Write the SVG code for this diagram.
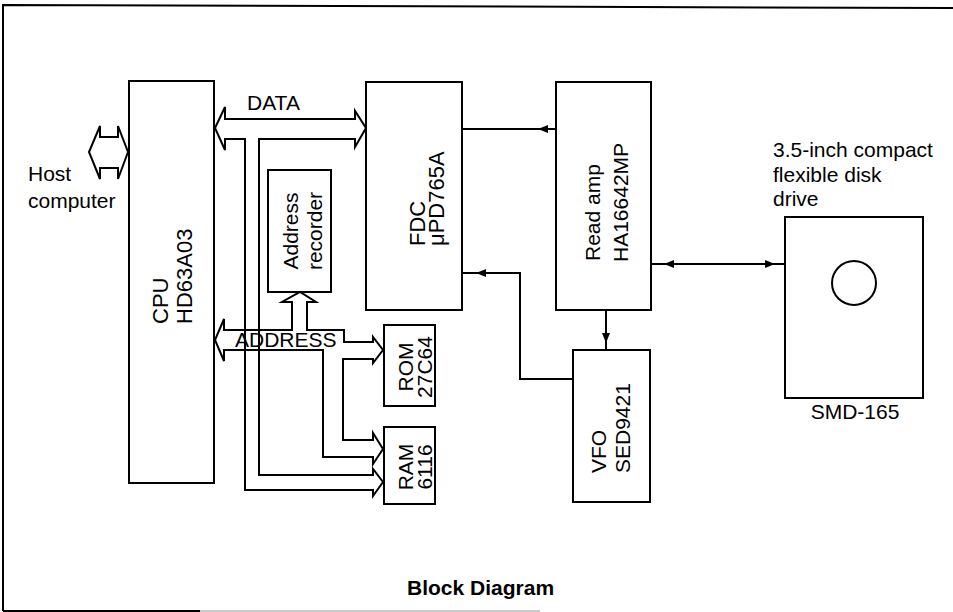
<svg xmlns="http://www.w3.org/2000/svg" width="953" height="612" viewBox="0 0 953 612">
<style>
.box{fill:none;stroke:#000;stroke-width:2}
.bus{fill:none;stroke:#000;stroke-width:2;stroke-linejoin:miter}
.ln{fill:none;stroke:#000;stroke-width:2}
text{font-family:"Liberation Sans",Arial,Helvetica,sans-serif;font-size:21px;fill:#000}
.lbl{font-size:22px}
.b{font-weight:bold}
</style>
<defs>
<marker id="ah" viewBox="0 0 10 8" refX="10" refY="4" markerWidth="10" markerHeight="8" markerUnits="userSpaceOnUse" orient="auto">
<path d="M0,0 L10,4 L0,8 Z" fill="#000"/>
</marker>
</defs>
<g id="frame">
<path d="M3,611 L3,5 L953,8" class="ln"/>
<line x1="3" y1="611" x2="200" y2="611" stroke="#000" stroke-width="2"/>
<line x1="200" y1="611" x2="540" y2="611" stroke="#bbb" stroke-width="1.5"/>
</g>
<g id="host">
<path class="bus" d="M89,152 L100,126 L100,137 L118,137 L118,126 L128,152 L118,179 L118,168 L100,168 L100,179 Z"/>
<text x="28" y="181" font-size="22">Host</text>
<text x="28" y="208" font-size="22">computer</text>
</g>
<g id="cpu">
<rect class="box" x="129" y="81" width="85" height="402"/>
<text class="lbl" transform="translate(168,324) rotate(-90)">CPU</text>
<text class="lbl" transform="translate(192,324) rotate(-90)">HD63A03</text>
</g>
<g id="addr-rec">
<rect class="box" x="268" y="170" width="63" height="122"/>
<text transform="translate(298,231) rotate(-90)" text-anchor="middle">Address</text>
<text transform="translate(322,231) rotate(-90)" text-anchor="middle">recorder</text>
</g>
<g id="fdc">
<rect class="box" x="366" y="82" width="96" height="228"/>
<text class="lbl" transform="translate(425,246) rotate(-90)">FDC</text>
<text class="lbl" transform="translate(444,246) rotate(-90)">μPD765A</text>
</g>
<g id="readamp">
<rect class="box" x="556" y="82" width="95" height="228"/>
<text transform="translate(600,261) rotate(-90)">Read amp</text>
<text transform="translate(628,262) rotate(-90)">HA16642MP</text>
</g>
<g id="rom">
<rect class="box" x="384" y="325" width="51" height="81"/>
<text transform="translate(413,367) rotate(-90)" text-anchor="middle">ROM</text>
<text transform="translate(432,367) rotate(-90)" text-anchor="middle">27C64</text>
</g>
<g id="ram">
<rect class="box" x="384" y="427" width="51" height="77"/>
<text transform="translate(413,467) rotate(-90)" text-anchor="middle">RAM</text>
<text transform="translate(432,467) rotate(-90)" text-anchor="middle">6116</text>
</g>
<g id="vfo">
<rect class="box" x="573" y="350" width="77" height="152"/>
<text transform="translate(606,473) rotate(-90)">VFO</text>
<text transform="translate(630,473) rotate(-90)">SED9421</text>
</g>
<g id="drive">
<text x="773" y="157">3.5-inch compact</text>
<text x="773" y="182">flexible disk</text>
<text x="773" y="206">drive</text>
<rect class="box" x="785" y="217" width="138" height="181"/>
<circle cx="854" cy="283" r="22" class="box"/>
<text x="855" y="419" text-anchor="middle">SMD-165</text>
</g>
<g id="connectors">
<path class="bus" d="M215,128 L225,107 L225,119 L355,119 L355,111 L366,128 L355,147 L355,139 L259,139 L259,475 L373,475 L373,469 L383,482 L373,496 L373,490 L245,490 L245,139 L225,139 L225,150 Z"/>
<text x="247" y="110">DATA</text>
<path class="bus" d="M215,340 L224,319 L224,330 L292,330 L292,302 L282,302 L300,292 L316,302 L307,302 L307,330 L344,330 L344,342 L373,342 L373,337 L383,350 L373,363 L373,359 L343,359 L343,440 L373,440 L373,433 L383,449 L373,464 L373,457 L323,457 L323,350 L224,350 L224,361 Z"/>
<text x="235" y="347">ADDRESS</text>
<line class="ln" x1="462" y1="129" x2="556" y2="129"/>
<line class="ln" x1="556" y1="129" x2="538" y2="129" marker-end="url(#ah)"/>
<polyline class="ln" points="573,379 520,379 520,273 462,273"/>
<line class="ln" x1="500" y1="273" x2="476" y2="273" marker-end="url(#ah)"/>
<line class="ln" x1="606" y1="310" x2="606" y2="350"/>
<line class="ln" x1="606" y1="320" x2="606" y2="343" marker-end="url(#ah)"/>
<line class="ln" x1="651" y1="264" x2="785" y2="264"/>
<line class="ln" x1="690" y1="264" x2="664" y2="264" marker-end="url(#ah)"/>
<line class="ln" x1="750" y1="264" x2="775" y2="264" marker-end="url(#ah)"/>
</g>
<text class="b" x="407" y="595">Block Diagram</text>
</svg>
